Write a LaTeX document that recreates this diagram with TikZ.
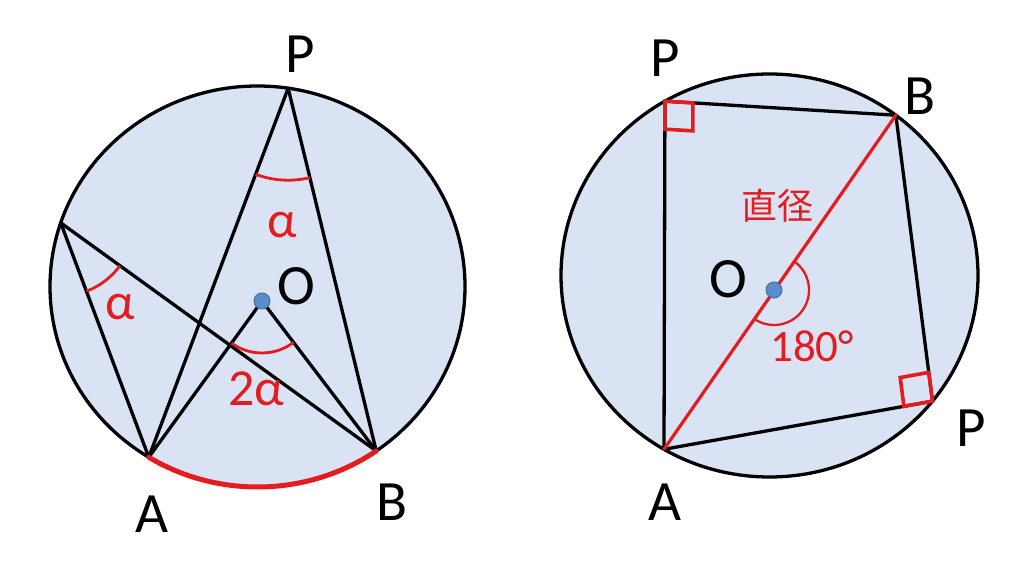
\documentclass[tikz,border=0pt]{standalone}
\usepackage{fontspec}
\setmainfont{Carlito}
\newfontfamily\cjkfont{Noto Sans CJK JP}
\usetikzlibrary{calc}
\definecolor{fillblue}{RGB}{218,227,243}
\definecolor{myred}{RGB}{228,28,32}
\definecolor{dotblue}{RGB}{91,141,205}
\definecolor{dotedge}{RGB}{65,113,156}
\begin{document}
\begin{tikzpicture}[x=1pt,y=1pt,line cap=round,line join=round,
  rim/.style={fill=fillblue,draw=black,line width=3.3pt},
  blk/.style={draw=black,line width=3.3pt},
  redline/.style={draw=myred,line width=3.2pt},
  redarc/.style={draw=myred,line width=5pt},
  angarc/.style={draw=myred,line width=2.8pt},
  sqmark/.style={draw=myred,line width=3.6pt,line cap=butt,line join=miter},
  centdot/.style={fill=dotblue,draw=dotedge,line width=1pt},
  lab/.style={font=\fontsize{57}{60}\selectfont,anchor=base,inner sep=0pt},
  glab/.style={font=\fontsize{52}{54}\selectfont,text=myred,anchor=base,inner sep=0pt},
  dlab/.style={font=\fontsize{45}{48}\selectfont,text=myred,anchor=base west,inner sep=0pt},
  clab/.style={font=\cjkfont\fontsize{36}{40}\selectfont,text=myred,inner sep=0pt}]
\useasboundingbox (0,0) rectangle (1024,565);
% ---------------- left figure ----------------
\coordinate (LC) at (257.5,278.5);
\coordinate (LP) at ($(LC)+(81.5:207.5 and 200.5)$);
\coordinate (LQ) at ($(LC)+(161.5:207.5 and 200.5)$);
\coordinate (LA) at ($(LC)+(238.4:207.5 and 200.5)$);
\coordinate (LB) at ($(LC)+(304.9:207.5 and 200.5)$);
\coordinate (LO) at (262,264);
\draw[rim] (LC) ellipse [x radius=207.5,y radius=200.5];
\draw[blk] (LQ) -- (LA);
\draw[blk] (LQ) -- (LB);
\draw[blk] (LP) -- (LA);
\draw[blk] (LP) -- (LB);
\draw[blk] (LA) -- (LO) -- (LB);
\draw[redarc] (LA) arc[start angle=238.4,end angle=304.9,x radius=207.5,y radius=200.5];
\begin{scope}
  \clip (LP) -- (LA) -- (LB) -- cycle;
  \draw[angarc] (LP) circle[radius=92];
\end{scope}
\begin{scope}
  \clip (LQ) -- (LA) -- (LB) -- cycle;
  \draw[angarc] (LQ) circle[radius=73];
\end{scope}
\begin{scope}
  \clip (LO) -- (LA) -- (LB) -- cycle;
  \draw[angarc] (LO) circle[radius=52];
\end{scope}
\fill[centdot] (LO) circle[radius=8];
\node[lab] (lP) at (300,492) {P};
\node[lab] (lA) at (152,33) {A};
\node[lab] (lB) at (392,45) {B};
\node[lab] (lO) at (296,260) {O};
\node[glab] (ga1) at (282,327) {α};
\node[glab] (ga2) at (120,245) {α};
\node[glab] (ga3) at (256,160) {2α};
% ---------------- right figure ----------------
\coordinate (RC) at (769.5,289.5);
\coordinate (RP1) at ($(RC)+(120.1:208.5 and 201.5)$);
\coordinate (RB) at ($(RC)+(52.7:208.5 and 201.5)$);
\coordinate (RP2) at ($(RC)+(321.4:208.5 and 201.5)$);
\coordinate (RA) at ($(RC)+(239.6:208.5 and 201.5)$);
\coordinate (RO) at (774,275);
\draw[rim] (RC) ellipse [x radius=208.5,y radius=201.5];
\draw[blk] (RP1) -- (RB);
\draw[blk] (RP1) -- (RA);
\draw[blk] (RP2) -- (RA);
\draw[blk] (RP2) -- (RB);
\draw[redline] (RA) -- (RB);
\coordinate (s1) at ($(RP1)!28pt!(RB)$);
\coordinate (s2) at ($(RP1)!28pt!(RA)$);
\draw[sqmark] (RP1) -- (s1) -- ($(s1)+(s2)-(RP1)$) -- (s2) -- cycle;
\coordinate (t1) at ($(RP2)!29pt!(RA)$);
\coordinate (t2) at ($(RP2)!29pt!(RB)$);
\draw[sqmark] (RP2) -- (t1) -- ($(t1)+(t2)-(RP2)$) -- (t2) -- cycle;
\draw[angarc,line width=2.3pt] ($(RO)+(55.24:35)$) arc[start angle=55.24,end angle=-124.76,radius=35];
\fill[centdot] (RO) circle[radius=8];
\node[lab] (rP1) at (665.5,488) {P};
\node[lab] (rB) at (920,450) {B};
\node[lab] (rP2) at (971,119) {P};
\node[lab] (rA) at (665,45) {A};
\node[lab] (rO) at (728,267) {O};
\node[clab] (rd) at (777,359) {直径};
\node[dlab] (r180) at (770,204) {180°};
\end{tikzpicture}
\end{document}
